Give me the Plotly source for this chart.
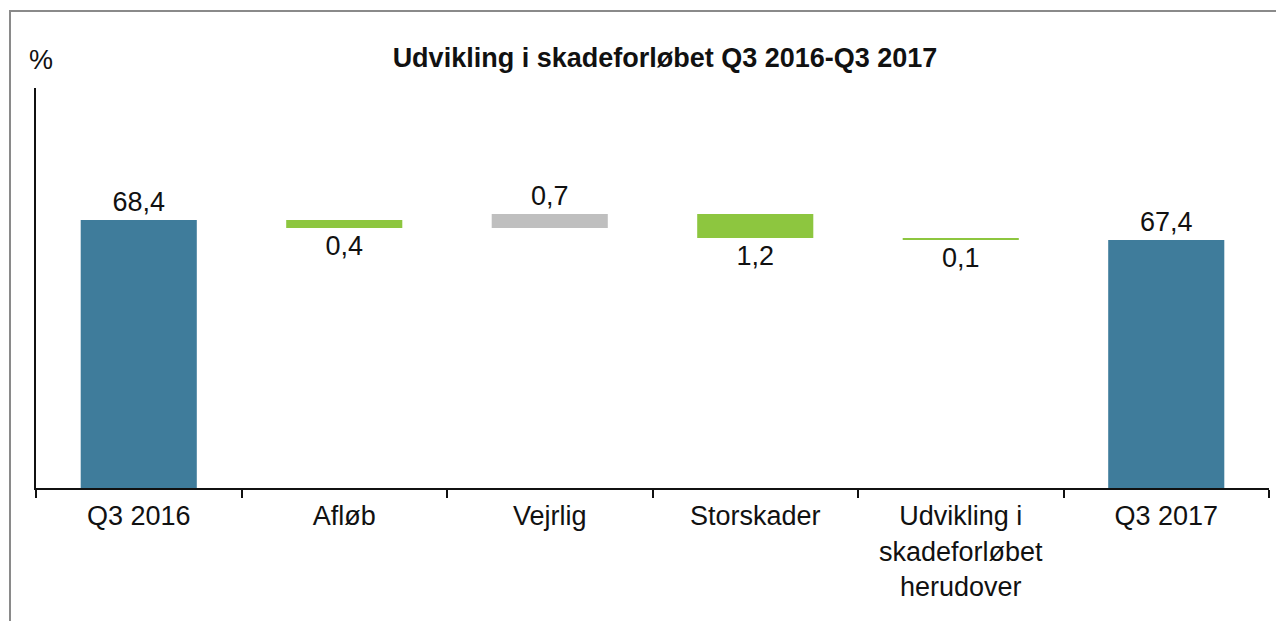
import plotly.graph_objects as go

categories = ["Q3 2016", "Afløb", "Vejrlig", "Storskader",
              "Udvikling i<br>skadeforløbet<br>herudover", "Q3 2017"]
values = [68.4, -0.4, 0.7, -1.2, -0.1, 0]
measures = ["absolute", "relative", "relative", "relative", "relative", "total"]
labels = ["68,4", "0,4", "0,7", "1,2", "0,1", "67,4"]

FONT = "Liberation Sans, Arial, sans-serif"
W, H = 1284, 621
OFF = 8  # page body margin offset
# desired on-page pixel positions of plot area
PL, PR, PT, PB = 36, 1269, 88, 488
L, T = PL - OFF, PT - OFF
R = W - (PR - OFF)
B = H - (PB - OFF)
FS = 27

fig = go.Figure(go.Waterfall(
    x=categories, y=values, measure=measures,
    text=labels, textinfo="text", textposition="outside",
    textfont=dict(family=FONT, size=FS, color="#111111"),
    increasing=dict(marker=dict(color="#BFBFBF")),
    decreasing=dict(marker=dict(color="#8DC63F")),
    totals=dict(marker=dict(color="#3F7C9B")),
    connector=dict(visible=False),
    width=0.565,
    cliponaxis=False,
))

pw, ph = W - L - R, H - T - B
def px(x): return (x - OFF - L) / pw
def py(y): return (H - B - (y - OFF)) / ph

fig.update_layout(
    width=W, height=H,
    margin=dict(l=L, r=R, t=T, b=B),
    paper_bgcolor="white", plot_bgcolor="white",
    showlegend=False,
    font=dict(family=FONT, size=FS, color="#111111"),
    title=dict(text="<b>Udvikling i skadeforløbet Q3 2016-Q3 2017</b>",
               x=(665 - OFF) / W, xanchor="center", y=1 - (58 - OFF) / H, yanchor="middle",
               xref="container", yref="container",
               font=dict(family=FONT, size=FS, color="#111111")),
    xaxis=dict(showline=True, linecolor="#111111", linewidth=2,
               ticks="outside", tickson="boundaries", ticklen=8,
               tickwidth=2, tickcolor="#111111", showgrid=False,
               ticklabelstandoff=3,
               tickfont=dict(family=FONT, size=FS, color="#111111")),
    yaxis=dict(range=[55, 75], showline=True, linecolor="#111111", linewidth=2,
               showticklabels=False, ticks="", showgrid=False, zeroline=False),
    annotations=[dict(text="%", x=px(41), y=py(60), xref="paper", yref="paper",
                      xanchor="center", yanchor="middle", showarrow=False,
                      font=dict(family=FONT, size=FS, color="#111111"))],
)

fig.add_shape(type="rect", xref="paper", yref="paper",
              x0=px(10), x1=px(1320), y0=py(660), y1=py(11),
              line=dict(color="#8A8A8A", width=2), fillcolor="rgba(0,0,0,0)",
              layer="below")

fig.write_html("out.html")
